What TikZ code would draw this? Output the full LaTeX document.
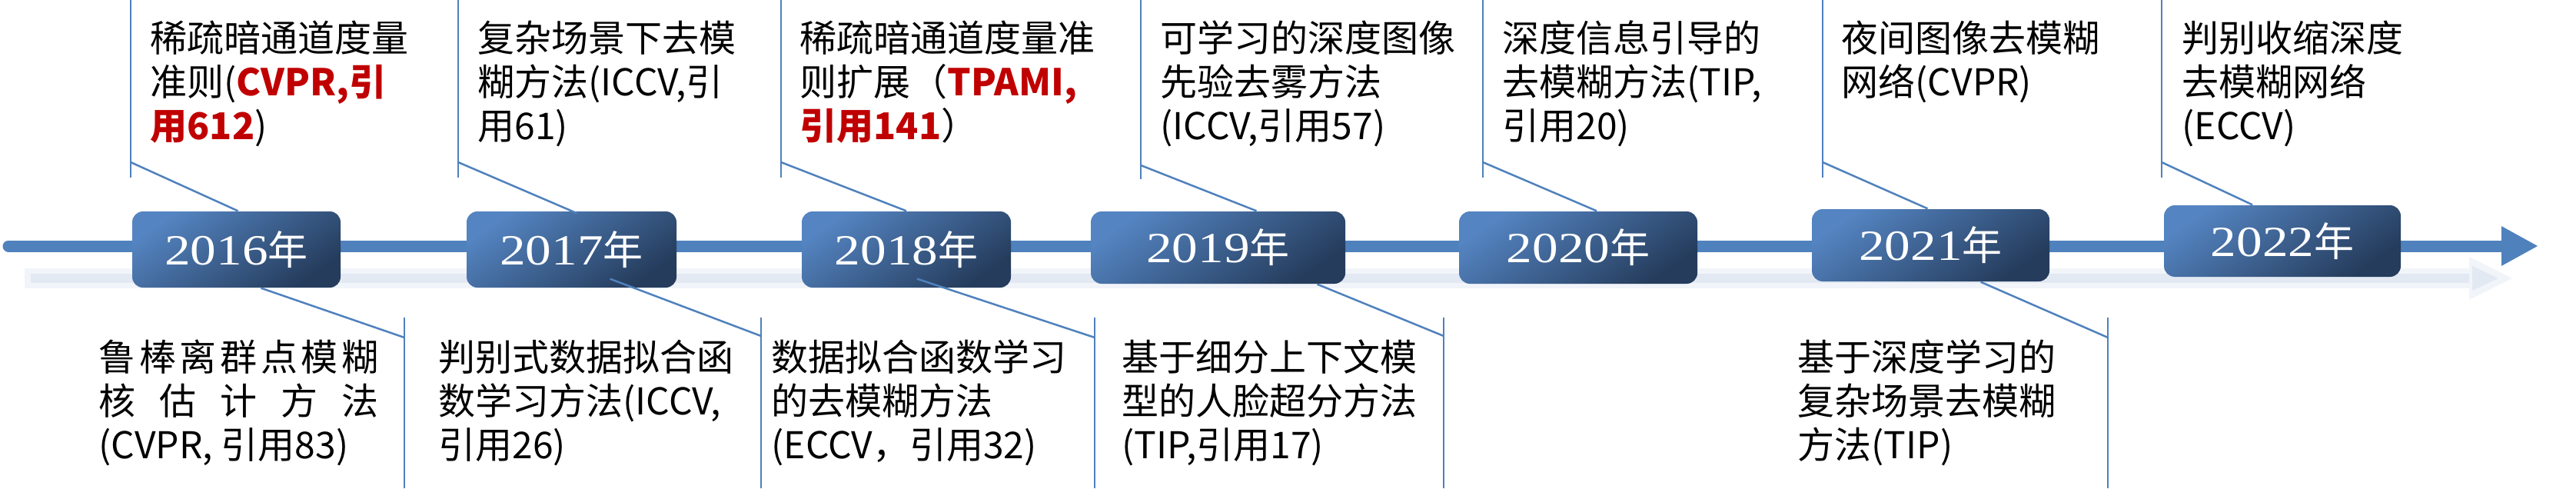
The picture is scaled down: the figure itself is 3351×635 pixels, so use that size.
\documentclass[tikz,border=0pt]{standalone}
\usepackage{graphicx}
\usepackage{fontspec}
\setmainfont{Noto Sans CJK SC}
\newfontfamily\yearfont{Liberation Serif}
\usetikzlibrary{arrows.meta,calc}
\definecolor{lineblue}{HTML}{4F81BD}
\definecolor{boxlight}{HTML}{5484C1}
\definecolor{boxdark}{HTML}{253C5C}
\definecolor{citered}{HTML}{C00000}
\definecolor{reflA}{HTML}{F1F5FA}
\definecolor{reflB}{HTML}{E2E9F3}
\newcommand{\hl}[1]{\textcolor{citered}{\bfseries #1}}
\newcommand{\yr}[1]{{\yearfont\fontsize{16.8pt}{20pt}\selectfont\scalebox{1.2}[1]{#1}}{\fontsize{15.6pt}{20pt}\selectfont 年}}
\begin{document}
\begin{tikzpicture}[x=0.3pt,y=-0.3pt,
  yearbox/.style={rounded corners=4.2pt, text=white, inner sep=0pt,
    top color=boxlight, bottom color=boxdark, shading angle=35},
  callout/.style={draw=lineblue, line width=0.75pt},
  note/.style={anchor=north west, inner sep=0pt, align=left,
    font=\fontsize{14.4pt}{17.1pt}\selectfont, text=black},
  timeline/.style={draw=lineblue, line width=4.5pt, line cap=round,
    -{Triangle[length=14.4pt,width=14.4pt]}}
]
\useasboundingbox (0,0) rectangle (3351,635);

% faint reflection under the timeline
\draw[reflA, line width=8pt] (32,362) -- (3222,362);
\draw[reflB, line width=3.6pt] (40,362) -- (3218,362);
\fill[reflA] (3212,334) -- (3268,362) -- (3212,390) -- cycle;
\fill[reflB] (3216,346) -- (3250,362) -- (3216,378) -- cycle;

% timeline
\coordinate (tlstart) at (11,320);
\coordinate (tlend) at (3302,320);
\draw[timeline] (tlstart) -- (tlend);

% year boxes
\node[yearbox, minimum width=81.3pt, minimum height=29.7pt] (y16) at (307.5,324.5) {\yr{2016}};
\node[yearbox, minimum width=81.9pt, minimum height=29.7pt] (y17) at (743.5,324.5) {\yr{2017}};
\node[yearbox, minimum width=81.6pt, minimum height=29.7pt] (y18) at (1179,324.5) {\yr{2018}};
\node[yearbox, minimum width=99.3pt, minimum height=28.2pt] (y19) at (1584.5,322) {\yr{2019}};
\node[yearbox, minimum width=93pt, minimum height=28.2pt] (y20) at (2053,322) {\yr{2020}};
\node[yearbox, minimum width=92.7pt, minimum height=28.2pt] (y21) at (2511.5,319) {\yr{2021}};
\node[yearbox, minimum width=92.4pt, minimum height=27.9pt] (y22) at (2969,313.5) {\yr{2022}};

% top callouts
\coordinate (u16a) at (170,0);  \coordinate (u16b) at (170,231);  \coordinate (u16k) at (170,211);
\coordinate (u17a) at (596,0);  \coordinate (u17b) at (596,231);  \coordinate (u17k) at (596,211);
\coordinate (u18a) at (1016,0); \coordinate (u18b) at (1016,231); \coordinate (u18k) at (1016,211);
\coordinate (u19a) at (1484,0); \coordinate (u19b) at (1484,233); \coordinate (u19k) at (1484,215);
\coordinate (u20a) at (1929,0); \coordinate (u20b) at (1929,231); \coordinate (u20k) at (1929,211);
\coordinate (u21a) at (2371,0); \coordinate (u21b) at (2371,231); \coordinate (u21k) at (2371,211);
\coordinate (u22a) at (2812,0); \coordinate (u22b) at (2812,231); \coordinate (u22k) at (2812,211);
\draw[callout] (u16a) -- (u16b);
\draw[callout] (u17a) -- (u17b);
\draw[callout] (u18a) -- (u18b);
\draw[callout] (u19a) -- (u19b);
\draw[callout] (u20a) -- (u20b);
\draw[callout] (u21a) -- (u21b);
\draw[callout] (u22a) -- (u22b);
\draw[callout] (u16k) -- ($(y16.north)+(2,0)$);
\draw[callout] (u17k) -- ($(y17.north)+(7,3)$);
\draw[callout] (u18k) -- ($(y18.north)+(0,0)$);
\draw[callout] (u19k) -- ($(y19.north)+(50,0)$);
\draw[callout] (u20k) -- ($(y20.north)+(24,0)$);
\draw[callout] (u21k) -- ($(y21.north)+(-4,0)$);
\draw[callout] (u22k) -- ($(y22.north)+(-39,0)$);

% bottom callouts
\coordinate (d16a) at (526,413);  \coordinate (d16b) at (526,635);  \coordinate (d16k) at (526,439);
\coordinate (d17a) at (990,413);  \coordinate (d17b) at (990,635);  \coordinate (d17k) at (990,437);
\coordinate (d18a) at (1424,413); \coordinate (d18b) at (1424,635); \coordinate (d18k) at (1424,439);
\coordinate (d19a) at (1878,413); \coordinate (d19b) at (1878,635); \coordinate (d19k) at (1878,437);
\coordinate (d21a) at (2742,413); \coordinate (d21b) at (2742,635); \coordinate (d21k) at (2742,439);
\draw[callout] (d16a) -- (d16b);
\draw[callout] (d17a) -- (d17b);
\draw[callout] (d18a) -- (d18b);
\draw[callout] (d19a) -- (d19b);
\draw[callout] (d21a) -- (d21b);
\draw[callout] ($(y16.south)+(32,0)$) -- (d16k);
\draw[callout] ($(y17.south)+(50,-12)$) -- (d17k);
\draw[callout] ($(y18.south)+(14,-12)$) -- (d18k);
\draw[callout] ($(y19.south)+(129,0)$) -- (d19k);
\draw[callout] ($(y21.south)+(65,0)$) -- (d21k);

% top notes
\node[note] (t16) at (195,26) {稀疏暗通道度量\\准则(\hl{CVPR,引}\\\hl{用612})};
\node[note] (t17) at (621,26) {复杂场景下去模\\糊方法(ICCV,引\\用61)};
\node[note] (t18) at (1040,26) {稀疏暗通道度量准\\则扩展（\hl{TPAMI,}\\\hl{引用141}）};
\node[note] (t19) at (1509,26) {可学习的深度图像\\先验去雾方法\\(ICCV,引用57)};
\node[note] (t20) at (1954,26) {深度信息引导的\\去模糊方法(TIP,\\引用20)};
\node[note] (t21) at (2395,26) {夜间图像去模糊\\网络(CVPR)};
\node[note] (t22) at (2838,26) {判别收缩深度\\去模糊网络\\(ECCV)};

% bottom notes
\node[note] (b16) at (128,441) {\makebox[109.2pt][s]{鲁\hfill 棒\hfill 离\hfill 群\hfill 点\hfill 模\hfill 糊}\\\makebox[109.2pt][s]{核\hfill 估\hfill 计\hfill 方\hfill 法}\\(CVPR, 引用83)};
\node[note] (b17) at (570,441) {判别式数据拟合函\\数学习方法(ICCV,\\引用26)};
\node[note] (b18) at (1003,441) {数据拟合函数学习\\的去模糊方法\\(ECCV，引用32)};
\node[note] (b19) at (1459,441) {基于细分上下文模\\型的人脸超分方法\\(TIP,引用17)};
\node[note] (b21) at (2338,441) {基于深度学习的\\复杂场景去模糊\\方法(TIP)};
\end{tikzpicture}
\end{document}
